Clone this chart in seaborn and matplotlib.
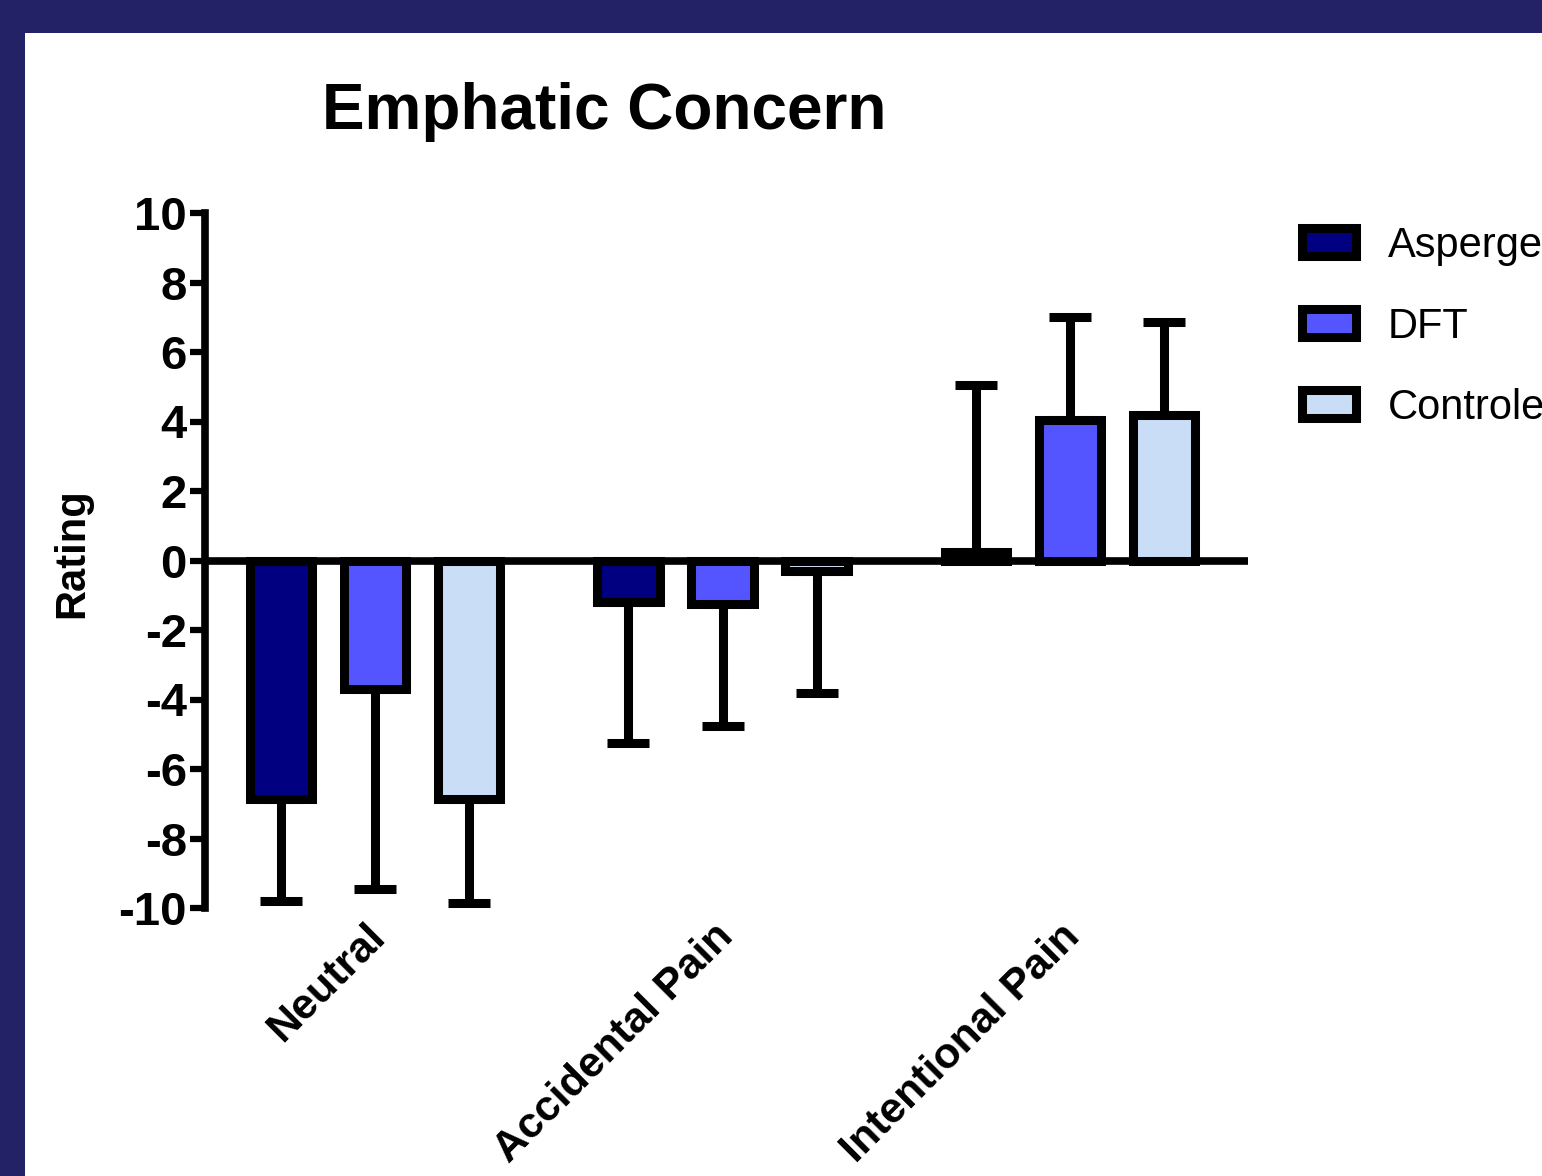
import numpy as np
import pandas as pd
import matplotlib
matplotlib.use('Agg')
import matplotlib.pyplot as plt
import matplotlib.transforms as mtransforms
import seaborn as sns
from matplotlib.patches import Rectangle

# Data
conditions = ['Neutral', 'Accidental Pain', 'Intentional Pain']
groups = ['Asperger', 'DFT', 'Controle']
group_colors = ['#000080', '#5555FF', '#C9DDF6']

asperger_mean = [-6.85, -1.2, 0.25]
dft_mean = [-3.7, -1.25, 4.05]
controle_mean = [-6.85, -0.3, 4.2]

# one-sided error bars (drawn away from zero)
asperger_sd = [2.95, 4.05, 4.8]
dft_sd = [5.75, 3.5, 2.95]
controle_sd = [3.0, 3.5, 2.65]

means = [asperger_mean, dft_mean, controle_mean]
sds = [asperger_sd, dft_sd, controle_sd]

df = pd.DataFrame({
    'condition': conditions * len(groups),
    'group': np.repeat(groups, len(conditions)),
    'rating': np.concatenate(means),
})

sns.set_style('white')
plt.rcParams['font.family'] = ['Liberation Sans', 'DejaVu Sans']
plt.rcParams['axes.unicode_minus'] = False
for key in ['text.color', 'axes.labelcolor', 'xtick.color', 'ytick.color']:
    plt.rcParams[key] = 'black'

W, H = 1542, 1176
fig = plt.figure(figsize=(W / 100, H / 100), dpi=100, facecolor='#232266')
fig.add_artist(Rectangle((25 / W, 0), 1, 1 - 33 / H, transform=fig.transFigure,
                         facecolor='white', edgecolor='none', zorder=-1))

ax = fig.add_axes([205 / W, 1 - 908 / H, (1248 - 205) / W, (908 - 213) / H])

sns.barplot(data=df, x='condition', y='rating', hue='group',
            order=conditions, hue_order=groups, palette=group_colors,
            saturation=1, width=0.8115, gap=0.34, errorbar=None,
            edgecolor='black', linewidth=6.5, zorder=3, ax=ax)

# error bars from the bar positions seaborn placed
for cont, m, s in zip(ax.containers, means, sds):
    xs = [b.get_x() + b.get_width() / 2 for b in cont]
    lower = [sd if v < 0 else 0 for v, sd in zip(m, s)]
    upper = [sd if v >= 0 else 0 for v, sd in zip(m, s)]
    ax.errorbar(xs, m, yerr=[lower, upper], fmt='none', ecolor='black',
                elinewidth=6.5, capsize=15, capthick=6.5, zorder=2)

ax.axhline(0, color='black', lw=5.5, zorder=4)
ax.set_xlim(-0.489, 2.512)
ax.set_ylim(-10, 10)
ax.set_yticks(range(-10, 11, 2))
ax.set_xlabel('')
ax.set_ylabel('')

for side in ['top', 'right', 'bottom']:
    ax.spines[side].set_visible(False)
ax.spines['left'].set_linewidth(5.5)
ax.spines['left'].set_color('black')

ax.tick_params(axis='y', left=True, length=11, width=4.5, pad=2,
               labelsize=34, color='black')
ax.tick_params(axis='x', length=0, pad=6, labelsize=31)
for lbl in ax.get_yticklabels():
    lbl.set_fontweight('bold')
ax.set_xticks(range(len(conditions)))
ax.set_xticklabels(conditions, rotation=45, ha='right', rotation_mode='anchor',
                   fontweight='bold')
shift = mtransforms.ScaledTranslation(-10 / 100, 0, fig.dpi_scale_trans)
for lbl in ax.get_xticklabels():
    lbl.set_transform(lbl.get_transform() + shift)

fig.text(0.3917, 1 - 112 / H, 'Emphatic Concern', ha='center', va='center',
         fontsize=46, fontweight='bold')
fig.text(72 / W, 1 - 553 / H, 'Rating', rotation=90, ha='center', va='center',
         fontsize=30, fontweight='bold')

handles, labels = ax.get_legend_handles_labels()
if ax.get_legend() is not None:
    ax.get_legend().remove()
for h in handles:
    h.set_edgecolor('black')
    h.set_linewidth(6.5)
fig.legend(handles, labels, loc='upper left',
           bbox_to_anchor=((1297 + 5) / W, 1 - 226 / H),
           frameon=False, fontsize=30, handlelength=1.3, handleheight=0.65,
           handletextpad=0.76, labelspacing=0.98, borderpad=0, borderaxespad=0)

fig.savefig('out.png', dpi=100)
